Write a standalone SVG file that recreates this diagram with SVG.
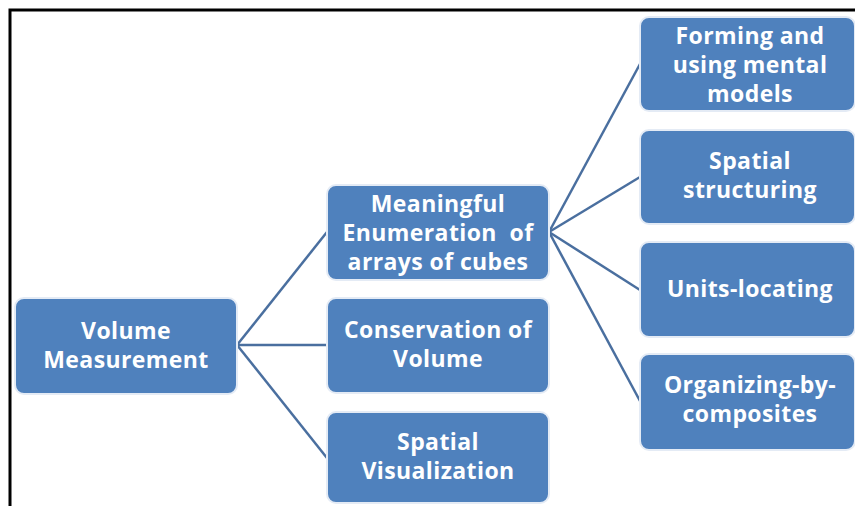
<svg xmlns="http://www.w3.org/2000/svg" width="855" height="506" viewBox="0 0 855 506">
  <style>
    .box { fill: #4f81bd; stroke: #e4ebf5; stroke-width: 2; }
    .lbl { font-family: "Open Sans", "Liberation Sans", sans-serif; font-weight: 700; font-size: 23px; letter-spacing: 0.4px; fill: #ffffff; text-anchor: middle; }
    .link { stroke: #4a6f9f; stroke-width: 2.5; fill: none; }
  </style>
  <rect x="0" y="0" width="855" height="506" fill="#ffffff"/>
  <!-- frame -->
  <path d="M10,506 V10 H855" fill="none" stroke="#000000" stroke-width="3"/>

  <g id="connectors">
    <line class="link" x1="237" y1="345" x2="327" y2="232"/>
    <line class="link" x1="237" y1="345" x2="327" y2="345"/>
    <line class="link" x1="237" y1="345" x2="327" y2="458"/>
    <line class="link" x1="549" y1="232" x2="640" y2="64"/>
    <line class="link" x1="549" y1="232" x2="640" y2="177"/>
    <line class="link" x1="549" y1="232" x2="640" y2="290"/>
    <line class="link" x1="549" y1="232" x2="640" y2="401"/>
  </g>

  <g id="volume-measurement">
    <rect class="box" x="15" y="298" width="222" height="96" rx="9"/>
    <text class="lbl" x="126" y="339">Volume</text>
    <text class="lbl" x="126" y="368">Measurement</text>
  </g>

  <g id="meaningful-enumeration">
    <rect class="box" x="327" y="185" width="222" height="95" rx="9"/>
    <text class="lbl" x="438" y="212">Meaningful</text>
    <text class="lbl" x="438" y="241" xml:space="preserve">Enumeration  of</text>
    <text class="lbl" x="438" y="270">arrays of cubes</text>
  </g>

  <g id="conservation">
    <rect class="box" x="327" y="298" width="222" height="95" rx="9"/>
    <text class="lbl" x="438" y="338">Conservation of</text>
    <text class="lbl" x="438" y="367">Volume</text>
  </g>

  <g id="spatial-visualization">
    <rect class="box" x="327" y="412" width="222" height="91" rx="9"/>
    <text class="lbl" x="438" y="450">Spatial</text>
    <text class="lbl" x="438" y="479">Visualization</text>
  </g>

  <g id="mental-models">
    <rect class="box" x="640" y="17" width="215" height="94" rx="9"/>
    <text class="lbl" x="750" y="44">Forming and</text>
    <text class="lbl" x="750" y="73">using mental</text>
    <text class="lbl" x="750" y="102">models</text>
  </g>

  <g id="spatial-structuring">
    <rect class="box" x="640" y="130" width="215" height="94" rx="9"/>
    <text class="lbl" x="750" y="169">Spatial</text>
    <text class="lbl" x="750" y="198">structuring</text>
  </g>

  <g id="units-locating">
    <rect class="box" x="640" y="242" width="215" height="95" rx="9"/>
    <text class="lbl" x="750" y="297">Units-locating</text>
  </g>

  <g id="organizing-by-composites">
    <rect class="box" x="640" y="354" width="215" height="96" rx="9"/>
    <text class="lbl" x="750" y="393">Organizing-by-</text>
    <text class="lbl" x="750" y="422">composites</text>
  </g>
</svg>
